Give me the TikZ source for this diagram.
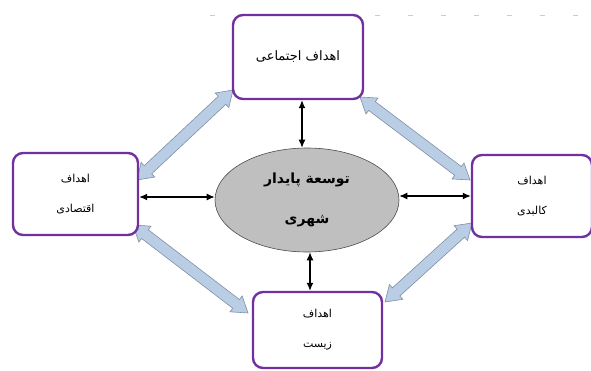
\documentclass[tikz,border=0pt]{standalone}
\usepackage{fontspec}
\newfontfamily\arabicfont[Script=Arabic]{DejaVu Sans}
\TeXXeTstate=1
\usetikzlibrary{calc,arrows.meta,shapes.geometric}
\definecolor{boxpurple}{HTML}{7030A0}
\definecolor{arrowblue}{HTML}{B9CDE5}
\definecolor{arrowedge}{HTML}{7F8FA6}
\definecolor{ellgray}{HTML}{BFBFBF}
\tikzset{
  goalbox/.style={draw=boxpurple, line width=2.4pt, rounded corners=10pt, fill=white,
    align=center, inner sep=0pt, font=\arabicfont\fontsize{11}{30}\selectfont},
  hub/.style={ellipse, draw=black!70, line width=0.6pt, fill=ellgray,
    minimum width=184, minimum height=104, inner sep=0pt, align=center,
    font=\arabicfont\bfseries\fontsize{14}{40}\selectfont},
  bi/.style={{Latex[length=8pt,width=7pt]}-{Latex[length=8pt,width=7pt]}, line width=1.2pt},
  blockarrow/.style={fill=arrowblue, draw=arrowedge, line width=0.6pt, line join=miter},
  artifact/.style={draw=gray!40, line width=0.8pt, dash pattern=on 5pt off 28pt},
}
\newcommand\blockarr[2]{%
  \path[blockarrow] let \p1=($(#2)-(#1)$), \n1={atan2(\y1,\x1)}, \n2={veclen(\x1,\y1)} in
    (#1)
    -- ($(#1)+(\n1:15)+({\n1+90}:10)$)
    -- ($(#1)+(\n1:15)+({\n1+90}:5.5)$)
    -- ($(#1)+(\n1:{\n2-15})+({\n1+90}:5.5)$)
    -- ($(#1)+(\n1:{\n2-15})+({\n1+90}:10)$)
    -- (#2)
    -- ($(#1)+(\n1:{\n2-15})+({\n1-90}:10)$)
    -- ($(#1)+(\n1:{\n2-15})+({\n1-90}:5.5)$)
    -- ($(#1)+(\n1:15)+({\n1-90}:5.5)$)
    -- ($(#1)+(\n1:15)+({\n1-90}:10)$)
    -- cycle;}
\begin{document}
\begin{tikzpicture}[x=1pt,y=1pt]
\useasboundingbox (0,0) rectangle (591,370);
% faint artifact line at top
\coordinate (a1) at (210,355);
\coordinate (a2) at (590,355);
\draw[artifact] (a1) -- (a2);
% block arrow end points
\coordinate (tl1) at (137,190);
\coordinate (tl2) at (233,280);
\coordinate (tr1) at (360,273);
\coordinate (tr2) at (470,190);
\coordinate (bl1) at (133,145);
\coordinate (bl2) at (248,57);
\coordinate (br1) at (385,68);
\coordinate (br2) at (472,147);
\blockarr{tl1}{tl2}
\blockarr{tr1}{tr2}
\blockarr{bl1}{bl2}
\blockarr{br1}{br2}
% nodes
\node[goalbox, minimum width=130, minimum height=84, font=\arabicfont\fontsize{13}{30}\selectfont] (T) at (298,313) {\beginR اهداف اجتماعی\endR};
\node[goalbox, minimum width=125, minimum height=82] (L) at (75.5,176) {\beginR اهداف\endR\\\beginR اقتصادی\endR};
\node[goalbox, minimum width=120, minimum height=82] (R) at (532,174) {\beginR اهداف\endR\\\beginR کالبدی\endR};
\node[goalbox, minimum width=129, minimum height=76] (B) at (317.5,40) {\beginR اهداف\endR\\\beginR زیست\endR};
\node[hub] (E) at (307,170) {\beginR توسعة پایدار\endR\\\beginR شهری\endR};
% black double arrows
\draw[bi] ([xshift=4]T.south) -- ([xshift=-5]E.north);
\draw[bi] ([xshift=3]E.south) -- ([xshift=-7.5]B.north);
\draw[bi] ([yshift=-3]L.east) -- ([yshift=3]E.west);
\draw[bi] ([yshift=4]E.east) -- (R.west);
\end{tikzpicture}
\end{document}
